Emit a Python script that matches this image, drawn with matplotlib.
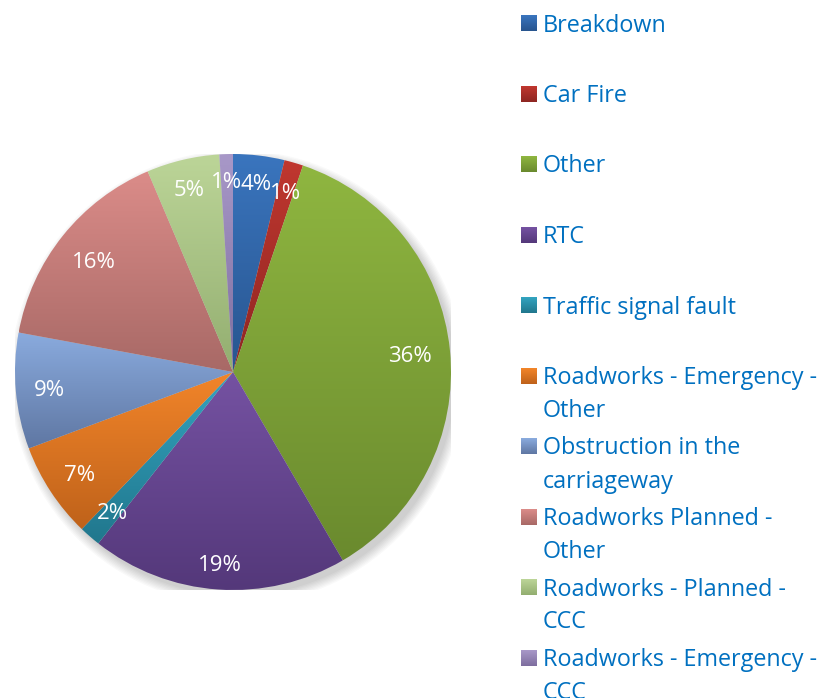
import textwrap
import numpy as np
import matplotlib
matplotlib.use("Agg")
import matplotlib.pyplot as plt
from matplotlib.colors import LinearSegmentedColormap
from matplotlib.patches import Circle

categories = [
    "Breakdown",
    "Car Fire",
    "Other",
    "RTC",
    "Traffic signal fault",
    "Roadworks - Emergency - Other",
    "Obstruction in the carriageway",
    "Roadworks Planned - Other",
    "Roadworks - Planned - CCC",
    "Roadworks - Emergency - CCC",
]
shares = [3.8, 1.4, 36.4, 19.0, 1.6, 7.1, 8.6, 15.7, 5.4, 1.0]

# top (light) / bottom (dark) colour of each slice gradient
light = ["#3A75BE", "#C0372F", "#8FB640", "#7552A2", "#33A4C0", "#F2852A",
         "#8AABDE", "#DB8C89", "#BCD598", "#A898C8"]
dark = ["#28558F", "#8E2622", "#6A8A2E", "#54387A", "#21778D", "#BF621A",
        "#5F77A3", "#A86966", "#93AE70", "#7E6E9F"]

plt.rcParams["font.family"] = ["Open Sans", "DejaVu Sans"]

W, H = 835, 698
fig = plt.figure(figsize=(W / 100, H / 100), dpi=100)

# pie: centre (233, 372) px, radius 218 px
cx, cy, r = 233, 372, 218
ax = fig.add_axes([(cx - r) / W, (H - cy - r) / H, 2 * r / W, 2 * r / H])

# soft shadow
for k in range(8):
    ax.add_patch(Circle((0.02, -0.025), 1.0 + 0.006 * k, color="black",
                        alpha=0.025, lw=0, zorder=0))

label_size = 16
wedges, texts, autotexts = ax.pie(
    shares, startangle=90, counterclock=False, radius=1,
    autopct="%.0f%%", pctdistance=0.86,
    textprops=dict(color="white", fontsize=label_size),
    wedgeprops=dict(linewidth=0),
)

grad = np.linspace(1, 0, 256).reshape(-1, 1)
for w, lc, dc in zip(wedges, light, dark):
    th = np.radians(np.linspace(w.theta1, w.theta2, 100))
    xs = np.concatenate([[0], np.cos(th)])
    ys = np.concatenate([[0], np.sin(th)])
    cmap = LinearSegmentedColormap.from_list("g", [dc, lc])
    im = ax.imshow(grad, cmap=cmap, extent=[xs.min(), xs.max(), ys.min(), ys.max()],
                   origin="upper", aspect="auto", zorder=2)
    w.set_facecolor("none")
    im.set_clip_path(w)

ax.set_xlim(-1, 1)
ax.set_ylim(-1, 1)
ax.set_aspect("equal")
ax.axis("off")

# Excel-like label placement: outer edge of each label at a fixed radius
fig.canvas.draw()
renderer = fig.canvas.get_renderer()
digit_h = label_size * 100 / 72 * 0.714
for w, t in zip(wedges, autotexts):
    t.set_zorder(5)
    ang = np.radians((w.theta1 + w.theta2) / 2)
    ux, uy = np.cos(ang), np.sin(ang)
    bw = t.get_window_extent(renderer).width
    d = (0.92 * r - (abs(ux) * bw / 2 + abs(uy) * digit_h / 2)) / r
    t.set_position((d * ux, d * uy - digit_h / 2 / r))
    t.set_va("baseline")

# legend drawn in pixel coordinates
lax = fig.add_axes([0, 0, 1, 1])
lax.set_xlim(0, W)
lax.set_ylim(H, 0)
lax.axis("off")

sq_grad = np.linspace(0, 1, 32).reshape(-1, 1)
for i, (name, lc, dc) in enumerate(zip(categories, light, dark)):
    base = 31.5 + i * 70.5
    cmap = LinearSegmentedColormap.from_list("g", [lc, dc])
    lax.imshow(sq_grad, cmap=cmap, extent=[521, 537, base, base - 16],
               aspect="auto", origin="upper")
    lines = textwrap.wrap(name, width=23, break_on_hyphens=False)
    for j, line in enumerate(lines):
        lax.text(543, base + j * 33, line, color="#0070C0", fontsize=16.8,
                 va="baseline", ha="left")

lax.set_xlim(0, W)
lax.set_ylim(H, 0)

fig.savefig("out.png", dpi=100)
